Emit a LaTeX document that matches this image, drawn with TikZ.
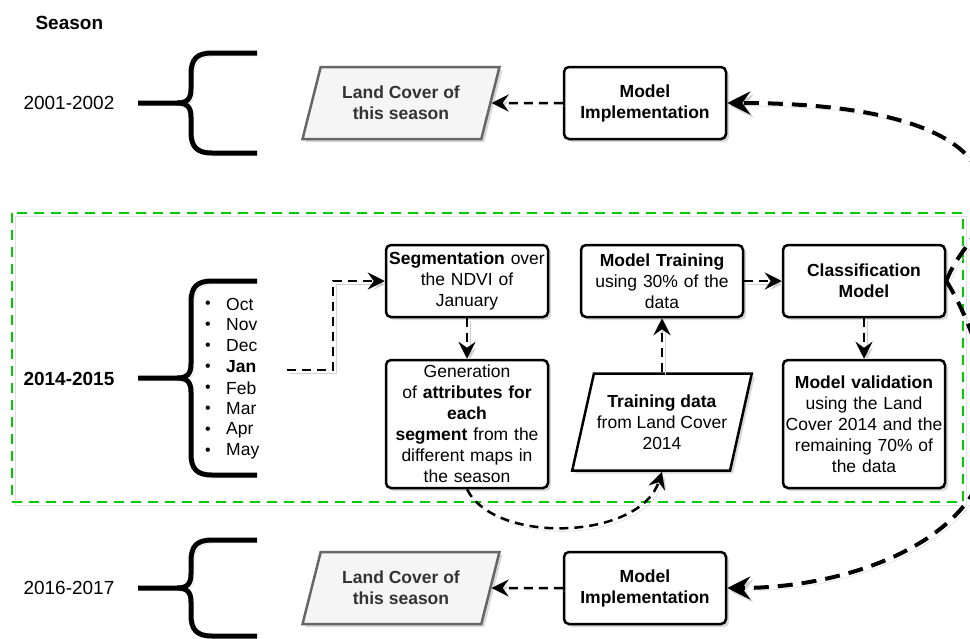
\documentclass[tikz,border=0pt]{standalone}
\usepackage{fontspec}
\setmainfont{Liberation Sans}
\usetikzlibrary{shapes.geometric, arrows.meta, shadows, calc}
\definecolor{seasongreen}{HTML}{00CC00}
\definecolor{coverfill}{HTML}{F5F5F5}
\definecolor{coverdraw}{HTML}{666666}
\definecolor{covertext}{HTML}{333333}

\tikzset{
  boxfont/.style={font=\fontsize{17.5}{21}\selectfont},
  stepbox/.style={draw, line width=2.5pt, rounded corners=5pt, fill=white, align=center,
    text width=158pt, inner sep=2pt, boxfont,
    drop shadow={shadow xshift=3pt, shadow yshift=-3pt, opacity=0.3}},
  databox/.style={trapezium, trapezium left angle=70, trapezium right angle=110,
    trapezium stretches=true, draw, line width=2.5pt, fill=white, align=center,
    inner sep=2pt, boxfont,
    drop shadow={shadow xshift=3pt, shadow yshift=-3pt, opacity=0.3}},
  coverbox/.style={databox, fill=coverfill, draw=coverdraw, text=covertext,
    minimum width=197pt, minimum height=72pt},
  lineshadow/.style={preaction={draw=black!18, transform canvas={shift={(3pt,-3pt)}}}},
  conn/.style={line width=2.5pt, dash pattern=on 9pt off 6pt, lineshadow,
    -{Stealth[length=17pt, width=17pt, inset=6pt]}},
  bigconn/.style={line width=4pt, dash pattern=on 15pt off 9pt, lineshadow,
    -{Stealth[length=23pt, width=23pt, inset=8pt]}},
  brace/.style={line width=5pt, lineshadow},
  yearlabel/.style={anchor=west, font=\fontsize{19}{22}\selectfont},
}

\begin{document}
\begin{tikzpicture}[x=1pt, y=-1pt]
  \useasboundingbox (0,0) rectangle (970,638);
  \clip (0,0) rectangle (970,638);

  % season labels
  \node[yearlabel, font=\fontsize{19}{22}\selectfont\bfseries] (season) at (32,23) {Season};
  \node[yearlabel] (y2001) at (20,103) {2001-2002};
  \node[yearlabel, font=\fontsize{19}{22}\selectfont\bfseries] (y2014) at (20,379) {2014-2015};
  \node[yearlabel] (y2016) at (20,588) {2016-2017};

  % braces
  \foreach \ym/\yt/\yb in {103/53/153, 378/281/475, 588/540/636}{
    \draw[brace] (257,\yt) -- (212,\yt) .. controls (197,\yt) and (191,\yt+6) .. (191,\yt+21)
      -- (191,\ym-14) .. controls (191,\ym-4) and (187,\ym) .. (177,\ym) -- (138,\ym);
    \draw[brace] (177,\ym) .. controls (187,\ym) and (191,\ym+4) .. (191,\ym+14)
      -- (191,\yb-21) .. controls (191,\yb-6) and (197,\yb) .. (212,\yb) -- (257,\yb);
  }

  % months of the season
  \foreach \m [count=\i] in {Oct,Nov,Dec,\textbf{Jan},Feb,Mar,Apr,May}{
    \node[font=\fontsize{16}{16}\selectfont, inner sep=0pt] (b\i) at (208,284+21*\i) {•};
    \node[anchor=west, boxfont, inner sep=0pt] (m\i) at (226,283+21*\i) {\m};
  }
  \coordinate (janout) at (287,370);

  % season 2014-2015
  \draw[seasongreen, line width=2.5pt, dash pattern=on 10pt off 7pt,
    preaction={draw=black!12, transform canvas={shift={(3pt,-3pt)}}}] (12,213) rectangle (963,502);

  \node[stepbox, minimum height=72pt] (seg) at (467,281)
    {\textbf{Segmentation} over\\the NDVI of\\January};
  \node[stepbox, minimum height=128pt] (gen) at (467,424)
    {Generation\\of \textbf{attributes for}\\\textbf{each}\\\textbf{segment} from the\\different maps in\\the season};
  \node[stepbox, minimum height=72pt] (train) at (662,281)
    {\textbf{Model Training}\\using 30\% of the\\data};
  \node[databox, minimum width=180pt, minimum height=97pt] (tdata) at (662,422)
    {\textbf{Training data}\\from Land Cover\\2014};
  \node[stepbox, minimum height=72pt] (class) at (864,281)
    {\textbf{Classification}\\\textbf{Model}};
  \node[stepbox, minimum height=128pt] (valid) at (864,424)
    {\textbf{Model validation}\\using the Land\\Cover 2014 and the\\remaining 70\% of\\the data};

  % other seasons
  \node[stepbox, minimum height=72pt] (impl1) at (645,103) {\textbf{Model}\\\textbf{Implementation}};
  \node[coverbox] (cover1) at (401,103) {\textbf{Land Cover of}\\\textbf{this season}};
  \node[stepbox, minimum height=72pt] (impl2) at (645,588) {\textbf{Model}\\\textbf{Implementation}};
  \node[coverbox] (cover2) at (401,588) {\textbf{Land Cover of}\\\textbf{this season}};

  % connectors
  \draw[conn] (janout) -- ++(46,0) |- (seg.west);
  \draw[conn] (seg.south) -- (gen.north);
  \draw[conn] (gen.south) .. controls (495,545) and (640,540) .. (tdata.center |- tdata.south);
  \draw[conn] (tdata.center |- tdata.north) -- (train.south);
  \draw[conn] (train.east) -- (class.west);
  \draw[conn] (class.south) -- (valid.north);
  \draw[conn] (impl1.west) -- (cover1.east);
  \draw[conn] (impl2.west) -- (cover2.east);
  \draw[bigconn] (class.east) .. controls (960,245) and (990,230) .. (985,195)
    .. controls (980,120) and (850,103) .. (impl1.east);
  \draw[bigconn] (class.east) .. controls (965,310) and (995,380) .. (990,440)
    .. controls (985,540) and (850,588) .. (impl2.east);
\end{tikzpicture}
\end{document}
